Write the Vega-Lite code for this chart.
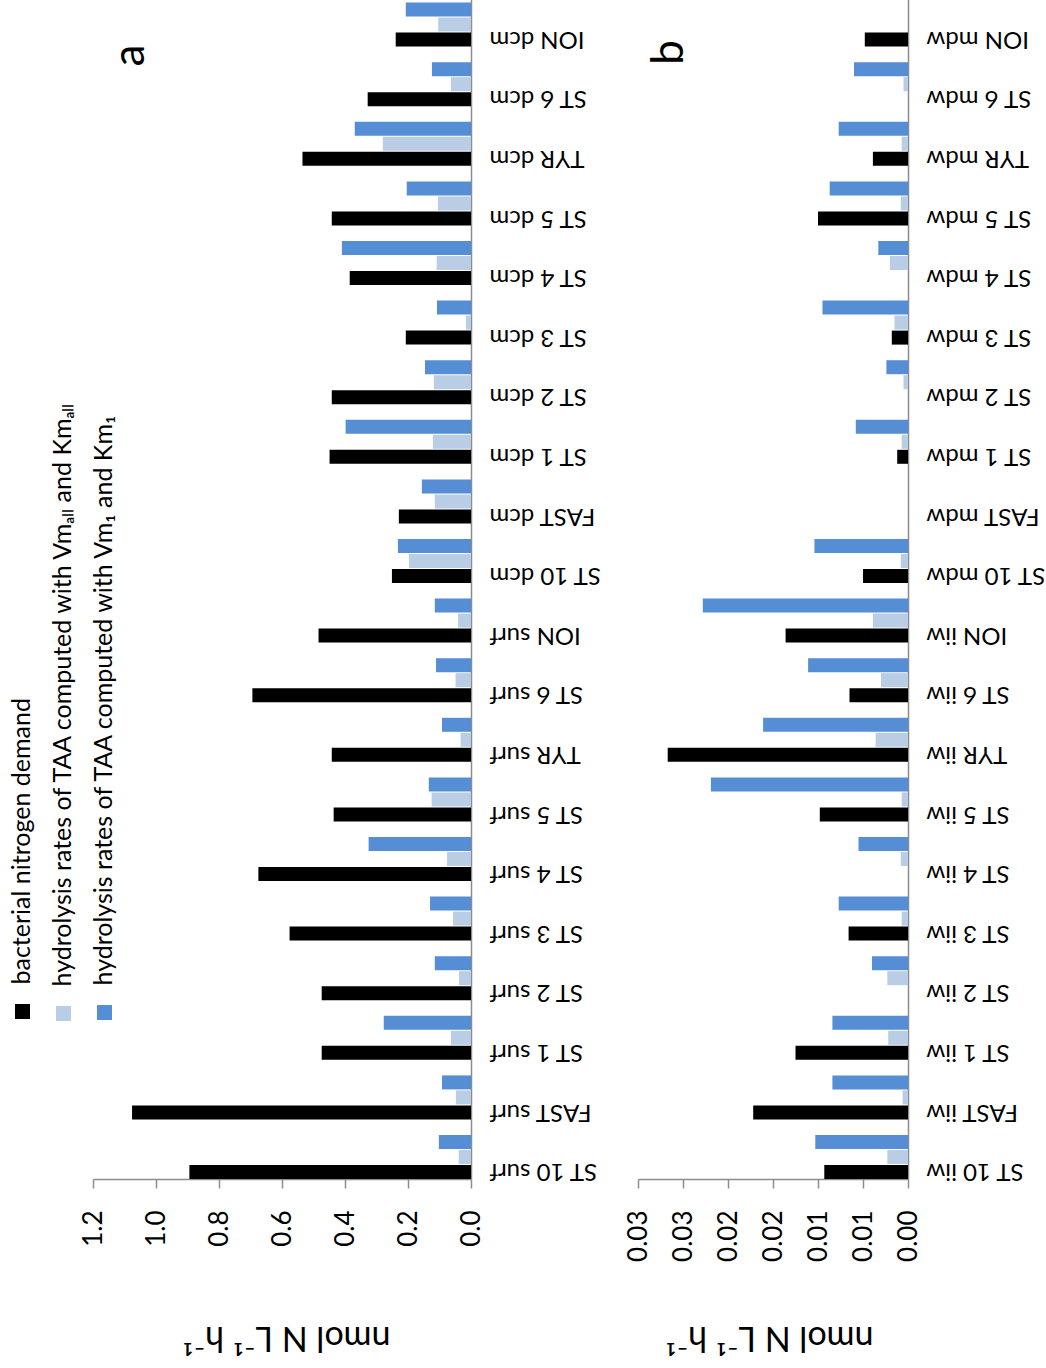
{
  "$schema": "https://vega.github.io/schema/vega-lite/v6.json",
  "padding": {"left": 10, "top": -13, "right": 2, "bottom": 10},
  "bounds": "flush",
  "spacing": 167,
  "config": {
    "view": {"stroke": null},
    "font": "Lato",
    "axis": {"grid": false, "domainColor": "#8c8c8c", "domainWidth": 1.5, "tickColor": "#8c8c8c", "tickWidth": 1.5, "labelColor": "#000000", "titleColor": "#000000", "labelFont": "Lato", "titleFont": "Lato", "titleFontWeight": "normal", "labelOverlap": false}
  },
  "datasets": {
    "d": [
      {"p": "a", "c": "ST 10 surf", "demand": 0.894, "Vmall": 0.039, "Vm1": 0.102},
      {"p": "a", "c": "FAST surf", "demand": 1.076, "Vmall": 0.048, "Vm1": 0.092},
      {"p": "a", "c": "ST 1 surf", "demand": 0.474, "Vmall": 0.064, "Vm1": 0.277},
      {"p": "a", "c": "ST 2 surf", "demand": 0.474, "Vmall": 0.038, "Vm1": 0.115},
      {"p": "a", "c": "ST 3 surf", "demand": 0.576, "Vmall": 0.057, "Vm1": 0.130},
      {"p": "a", "c": "ST 4 surf", "demand": 0.675, "Vmall": 0.076, "Vm1": 0.325},
      {"p": "a", "c": "ST 5 surf", "demand": 0.436, "Vmall": 0.125, "Vm1": 0.134},
      {"p": "a", "c": "TYR surf", "demand": 0.442, "Vmall": 0.033, "Vm1": 0.092},
      {"p": "a", "c": "ST 6 surf", "demand": 0.694, "Vmall": 0.049, "Vm1": 0.111},
      {"p": "a", "c": "ION surf", "demand": 0.484, "Vmall": 0.041, "Vm1": 0.115},
      {"p": "a", "c": "ST 10 dcm", "demand": 0.251, "Vmall": 0.197, "Vm1": 0.232},
      {"p": "a", "c": "FAST dcm", "demand": 0.229, "Vmall": 0.115, "Vm1": 0.156},
      {"p": "a", "c": "ST 1 dcm", "demand": 0.449, "Vmall": 0.121, "Vm1": 0.398},
      {"p": "a", "c": "ST 2 dcm", "demand": 0.442, "Vmall": 0.118, "Vm1": 0.146},
      {"p": "a", "c": "ST 3 dcm", "demand": 0.207, "Vmall": 0.016, "Vm1": 0.108},
      {"p": "a", "c": "ST 4 dcm", "demand": 0.385, "Vmall": 0.109, "Vm1": 0.410},
      {"p": "a", "c": "ST 5 dcm", "demand": 0.442, "Vmall": 0.105, "Vm1": 0.204},
      {"p": "a", "c": "TYR dcm", "demand": 0.535, "Vmall": 0.280, "Vm1": 0.369},
      {"p": "a", "c": "ST 6 dcm", "demand": 0.328, "Vmall": 0.064, "Vm1": 0.124},
      {"p": "a", "c": "ION dcm", "demand": 0.239, "Vmall": 0.104, "Vm1": 0.207},
      {"p": "b", "c": "ST 10 iiw", "demand": 0.0093, "Vmall": 0.0023, "Vm1": 0.0103},
      {"p": "b", "c": "FAST iiw", "demand": 0.0172, "Vmall": 0.0006, "Vm1": 0.0084},
      {"p": "b", "c": "ST 1 iiw", "demand": 0.0125, "Vmall": 0.0022, "Vm1": 0.0084},
      {"p": "b", "c": "ST 2 iiw", "demand": 0, "Vmall": 0.0023, "Vm1": 0.0040},
      {"p": "b", "c": "ST 3 iiw", "demand": 0.0066, "Vmall": 0.0007, "Vm1": 0.0077},
      {"p": "b", "c": "ST 4 iiw", "demand": 0, "Vmall": 0.0008, "Vm1": 0.0055},
      {"p": "b", "c": "ST 5 iiw", "demand": 0.0098, "Vmall": 0.0007, "Vm1": 0.0219},
      {"p": "b", "c": "TYR iiw", "demand": 0.0267, "Vmall": 0.0036, "Vm1": 0.0161},
      {"p": "b", "c": "ST 6 iiw", "demand": 0.0065, "Vmall": 0.0030, "Vm1": 0.0111},
      {"p": "b", "c": "ION iiw", "demand": 0.0136, "Vmall": 0.0039, "Vm1": 0.0228},
      {"p": "b", "c": "ST 10 mdw", "demand": 0.0050, "Vmall": 0.0008, "Vm1": 0.0104},
      {"p": "b", "c": "FAST mdw", "demand": 0, "Vmall": 0, "Vm1": 0},
      {"p": "b", "c": "ST 1 mdw", "demand": 0.0012, "Vmall": 0.0007, "Vm1": 0.0058},
      {"p": "b", "c": "ST 2 mdw", "demand": 0, "Vmall": 0.0005, "Vm1": 0.0024},
      {"p": "b", "c": "ST 3 mdw", "demand": 0.0018, "Vmall": 0.0015, "Vm1": 0.0095},
      {"p": "b", "c": "ST 4 mdw", "demand": 0, "Vmall": 0.0020, "Vm1": 0.0033},
      {"p": "b", "c": "ST 5 mdw", "demand": 0.0100, "Vmall": 0.0008, "Vm1": 0.0087},
      {"p": "b", "c": "TYR mdw", "demand": 0.0039, "Vmall": 0.0007, "Vm1": 0.0077},
      {"p": "b", "c": "ST 6 mdw", "demand": 0, "Vmall": 0.0005, "Vm1": 0.0060},
      {"p": "b", "c": "ION mdw", "demand": 0.0048, "Vmall": 0, "Vm1": 0}
    ]
  },
  "resolve": {"scale": {"color": "independent"}, "legend": {"color": "independent"}},
  "hconcat": [
    {
      "width": 378,
      "height": 1192,
      "layer": [
        {
          "data": {"name": "d"},
          "transform": [
            {"filter": "datum.p == 'a'"},
            {"fold": ["demand", "Vmall", "Vm1"], "as": ["s", "v"]}
          ],
          "encoding": {
            "y": {
              "field": "c", "type": "nominal", "title": null,
              "scale": {"domain": ["ION dcm", "ST 6 dcm", "TYR dcm", "ST 5 dcm", "ST 4 dcm", "ST 3 dcm", "ST 2 dcm", "ST 1 dcm", "FAST dcm", "ST 10 dcm", "ION surf", "ST 6 surf", "TYR surf", "ST 5 surf", "ST 4 surf", "ST 3 surf", "ST 2 surf", "ST 1 surf", "FAST surf", "ST 10 surf"], "paddingInner": 0, "paddingOuter": 0},
              "axis": {"orient": "right", "ticks": false, "labelAngle": 180, "labelAlign": "right", "labelBaseline": "middle", "labelPadding": 18, "labelOffset": 22, "labelFontSize": 24}
            },
            "yOffset": {"field": "s", "type": "nominal", "scale": {"domain": ["Vm1", "Vmall", "demand"], "paddingInner": 0.0667, "paddingOuter": 0.52, "align": 1}},
            "x": {
              "field": "v", "type": "quantitative", "title": "nmol N L⁻¹ h⁻¹",
              "scale": {"domain": [0, 1.2], "reverse": true, "nice": false},
              "axis": {"values": [0, 0.2, 0.4, 0.6, 0.8, 1.0, 1.2], "format": ".1f", "labelAngle": 270, "labelAlign": "right", "labelBaseline": "middle", "labelPadding": 22, "labelFontSize": 26, "tickSize": 9, "labelFlush": false, "titleAngle": 180, "titleBaseline": "bottom", "titleAlign": "center", "titleFontSize": 34, "titleY": 140, "titleX": 193}
            }
          },
          "layer": [
            {
              "transform": [{"filter": "datum.s == 'demand'"}],
              "mark": {"type": "bar"},
              "encoding": {
                "color": {"field": "s", "type": "nominal", "scale": {"domain": ["demand"], "range": ["#000000"]},
                  "legend": {"title": null, "orient": "none", "legendX": -83, "legendY": 1012, "padding": 0, "symbolType": "square", "symbolSize": 225, "symbolStrokeWidth": 0, "labelFont": "Lato", "labelFontSize": 25, "labelColor": "#000000", "labelLimit": 0, "labelOffset": 0, "labelExpr": "'bacterial nitrogen demand'",
                    "encoding": {"labels": {"angle": {"value": 270}, "dx": {"value": 27}, "dy": {"value": -13}, "align": {"value": "left"}, "baseline": {"value": "middle"}}}}
                }
              }
            },
            {
              "transform": [{"filter": "datum.s == 'Vmall'"}],
              "mark": {"type": "bar"},
              "encoding": {
                "color": {"field": "s", "type": "nominal", "scale": {"domain": ["Vmall"], "range": ["#b9cde5"]},
                  "legend": {"title": null, "orient": "none", "legendX": -42, "legendY": 1014, "padding": 0, "symbolType": "square", "symbolSize": 225, "symbolStrokeWidth": 0, "labelFont": "Lato", "labelFontSize": 25, "labelColor": "#000000", "labelLimit": 0, "labelOffset": 0, "labelExpr": "'hydrolysis rates of TAA computed with Vmₐₗₗ and Kmₐₗₗ'",
                    "encoding": {"labels": {"angle": {"value": 270}, "dx": {"value": 27}, "dy": {"value": -13}, "align": {"value": "left"}, "baseline": {"value": "middle"}}}}
                }
              }
            },
            {
              "transform": [{"filter": "datum.s == 'Vm1'"}],
              "mark": {"type": "bar"},
              "encoding": {
                "color": {"field": "s", "type": "nominal", "scale": {"domain": ["Vm1"], "range": ["#558ed5"]},
                  "legend": {"title": null, "orient": "none", "legendX": -1, "legendY": 1013, "padding": 0, "symbolType": "square", "symbolSize": 225, "symbolStrokeWidth": 0, "labelFont": "Lato", "labelFontSize": 25, "labelColor": "#000000", "labelLimit": 0, "labelOffset": 0, "labelExpr": "'hydrolysis rates of TAA computed with Vm₁ and Km₁'",
                    "encoding": {"labels": {"angle": {"value": 270}, "dx": {"value": 27}, "dy": {"value": -13}, "align": {"value": "left"}, "baseline": {"value": "middle"}}}}
                }
              }
            }
          ],
          "resolve": {"scale": {"color": "independent"}, "legend": {"color": "independent"}}
        },
        {
          "data": {"values": [{"t": "a"}]},
          "mark": {"type": "text", "angle": 270, "fontSize": 44, "font": "Lato", "align": "center", "baseline": "middle", "color": "#000000"},
          "encoding": {
            "x": {"datum": 1.08, "type": "quantitative"},
            "y": {"datum": "ST 6 dcm", "type": "nominal", "bandPosition": 0.15},
            "text": {"field": "t"}
          }
        }
      ],
      "resolve": {"scale": {"color": "independent"}, "legend": {"color": "independent"}}
    },
    {
      "width": 270,
      "height": 1192,
      "layer": [
        {
          "data": {"name": "d"},
          "transform": [
            {"filter": "datum.p == 'b'"},
            {"fold": ["demand", "Vmall", "Vm1"], "as": ["s", "v"]}
          ],
          "mark": {"type": "bar"},
          "encoding": {
            "y": {
              "field": "c", "type": "nominal", "title": null,
              "scale": {"domain": ["ION mdw", "ST 6 mdw", "TYR mdw", "ST 5 mdw", "ST 4 mdw", "ST 3 mdw", "ST 2 mdw", "ST 1 mdw", "FAST mdw", "ST 10 mdw", "ION iiw", "ST 6 iiw", "TYR iiw", "ST 5 iiw", "ST 4 iiw", "ST 3 iiw", "ST 2 iiw", "ST 1 iiw", "FAST iiw", "ST 10 iiw"], "paddingInner": 0, "paddingOuter": 0},
              "axis": {"orient": "right", "ticks": false, "labelAngle": 180, "labelAlign": "right", "labelBaseline": "middle", "labelPadding": 18, "labelOffset": 22, "labelFontSize": 24}
            },
            "yOffset": {"field": "s", "type": "nominal", "scale": {"domain": ["Vm1", "Vmall", "demand"], "paddingInner": 0.0667, "paddingOuter": 0.52, "align": 1}},
            "x": {
              "field": "v", "type": "quantitative", "title": "nmol N L⁻¹ h⁻¹",
              "scale": {"domain": [0, 0.03], "reverse": true, "nice": false},
              "axis": {"values": [0, 0.005, 0.01, 0.015, 0.02, 0.025, 0.03], "labelExpr": "format(datum.value + 1e-9, '.2f')", "labelAngle": 270, "labelAlign": "right", "labelBaseline": "middle", "labelPadding": 22, "labelFontSize": 26, "tickSize": 9, "labelFlush": false, "titleAngle": 180, "titleBaseline": "bottom", "titleAlign": "center", "titleFontSize": 34, "titleY": 140, "titleX": 131}
            },
            "color": {"field": "s", "type": "nominal", "scale": {"domain": ["demand", "Vmall", "Vm1"], "range": ["#000000", "#b9cde5", "#558ed5"]}, "legend": null}
          }
        },
        {
          "data": {"values": [{"t": "b"}]},
          "mark": {"type": "text", "angle": 270, "fontSize": 44, "font": "Lato", "align": "center", "baseline": "middle", "color": "#000000"},
          "encoding": {
            "x": {"datum": 0.0264, "type": "quantitative"},
            "y": {"datum": "ST 6 mdw", "type": "nominal", "bandPosition": 0.1},
            "text": {"field": "t"}
          }
        }
      ]
    }
  ]
}
